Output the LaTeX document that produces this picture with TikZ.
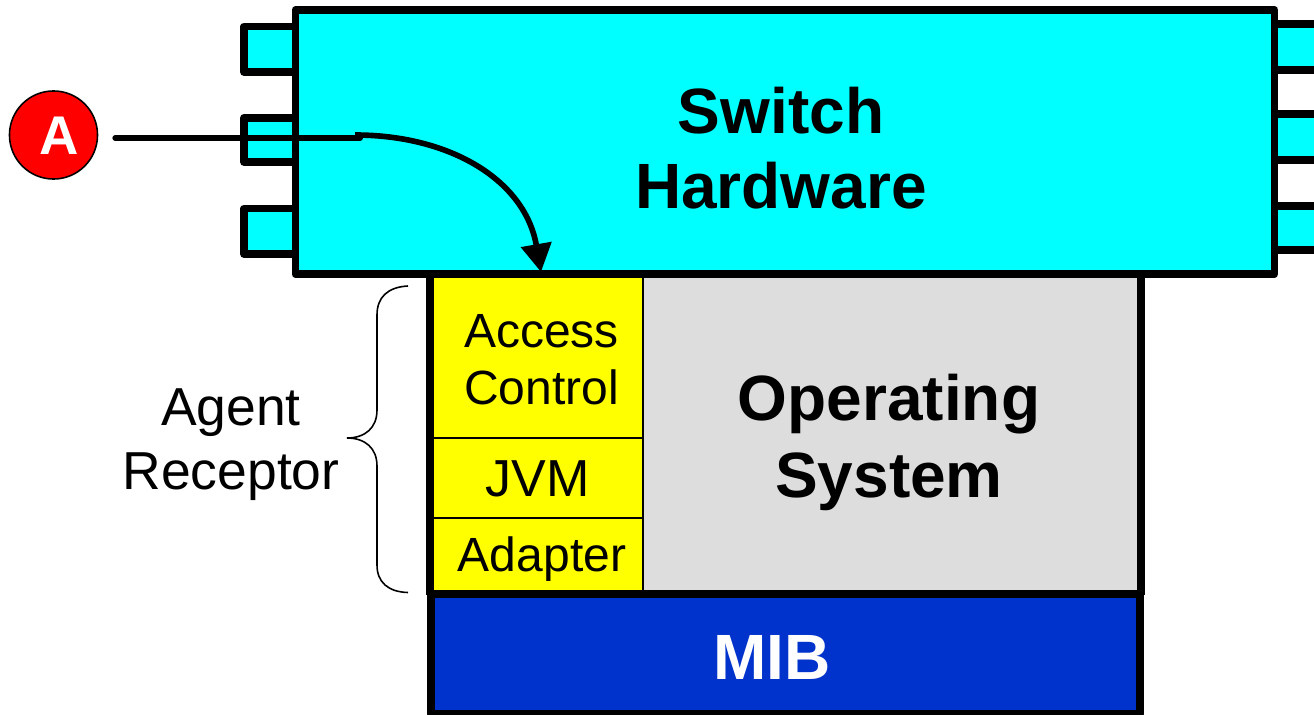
\documentclass[tikz,border=0pt]{standalone}
\usepackage{fontspec}
\setmainfont{Liberation Sans}
\usepackage{xcolor}
\usetikzlibrary{arrows.meta}
\definecolor{hwcyan}{RGB}{0,255,255}
\definecolor{osgrey}{RGB}{221,221,221}
\definecolor{mibblue}{RGB}{0,51,204}
\definecolor{layeryellow}{RGB}{255,255,0}

\begin{document}
\begin{tikzpicture}[x=0.01cm,y=-0.01cm,
  thickline/.style={draw=black,line width=2.2pt,line join=round},
  tabbox/.style={thickline,fill=hwcyan},
  layerbox/.style={draw=black,line width=0.4pt,fill=layeryellow,minimum width=2.12cm,inner sep=0pt},
  bigbold/.style={font=\fontsize{18.2}{21.3}\selectfont\bfseries,align=center},
  layertext/.style={font=\fontsize{13.65}{16.2}\selectfont,align=center}]
\useasboundingbox (0,0) rectangle (1314,715);
%\draw[help lines](0,0)grid[step=1cm](1314,715);
% ports on both sides of the hardware
\foreach \ytop/\ybot in {26.5/72,118/162,208.5/254}
  \draw[tabbox] (244,\ytop) rectangle (300,\ybot);
\foreach \ytop/\ybot in {24/70,114/160,206/250}
  \draw[tabbox] (1270,\ytop) rectangle (1325,\ybot);

\node[layerbox,minimum height=1.64cm] (access) at (537,356) {};
\node[layerbox,minimum height=0.80cm] (jvm) at (537,478) {};
\node[layerbox,minimum height=0.76cm] (adapter) at (537,556) {};
\node[draw=black,line width=0.4pt,fill=osgrey,minimum width=4.97cm,minimum height=3.2cm,inner sep=0pt] (os) at (891.5,434) {};
\draw[thickline] (access.north west)--(adapter.south west);
\draw[thickline] (os.north east)--(os.south east);
\node[thickline,fill=mibblue,minimum width=7.09cm,minimum height=1.2cm,inner sep=0pt] (mib) at (785.5,654) {};
\node[thickline,fill=hwcyan,minimum width=9.785cm,minimum height=2.64cm,inner sep=0pt] (hw) at (785,142) {};

\node[bigbold] (hwtext) at (781,148.5) {Switch\\Hardware};
\node[bigbold,font=\fontsize{18.2}{22}\selectfont\bfseries] (ostext) at (889,442.5) {Operating\\System};
\node[bigbold,text=white] (mibtext) at (772,657) {MIB};
\node[layertext] (accesstext) at (541.5,360) {Access\\Control};
\node[layertext,font=\fontsize{14.8}{16.2}\selectfont] (jvmtext) at (537.5,479) {JVM};
\node[layertext] (adaptertext) at (542,559) {Adapter};
\node[font=\fontsize{15.2}{18.2}\selectfont,align=center] (agent) at (231,445) {Agent\\Receptor};

\draw[line width=0.45pt] (408,286) .. controls (388,287) and (377,297) .. (377,315)
  -- (377,410) .. controls (377,428) and (365,438) .. (347,438)
  .. controls (365,438) and (377,448) .. (377,466)
  -- (377,565) .. controls (377,582) and (388,592) .. (408,592.5);

\node[circle,draw=black,line width=0.45pt,fill=red,minimum size=0.88cm,inner sep=0pt] (badge) at (53.5,135) {};
\node[text=white,font=\fontsize{15.5}{17}\selectfont\bfseries] (badgetext) at (59,135.5) {A};
\coordinate (bend) at (360,138);
\coordinate (curvestart) at (355,135);
\coordinate (tip) at (541,272);
\draw[line width=1.7pt,line cap=round,shorten <=0.17cm] (badge.east |- bend)--(bend);
\draw[line width=1.6pt,-{Triangle[length=0.28cm,width=0.3cm]}] (curvestart) .. controls (450,135) and (525,180) .. (tip);
\end{tikzpicture}
\end{document}
